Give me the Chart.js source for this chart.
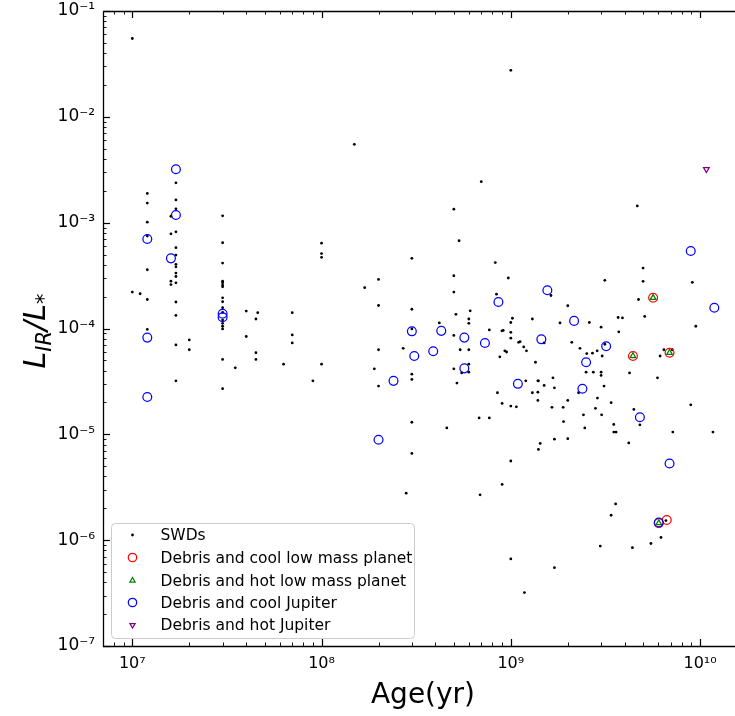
<!DOCTYPE html>
<html><head><meta charset="utf-8">
<script src="https://cdn.jsdelivr.net/npm/chart.js@4.4.0/dist/chart.umd.min.js"></script>
<style>html,body{margin:0;padding:0;background:#fff;overflow:hidden}canvas{display:block}</style>
</head><body>
<canvas id="c" width="735" height="716"></canvas>
<script>
// ---- data ----
const seriesNames = ['SWDs','Debris and cool low mass planet','Debris and hot low mass planet','Debris and cool Jupiter','Debris and hot Jupiter'];

const swdAge = [
 1.0e7,1.7e7,1.2e7,1.2e7,1.7e7,1.7e7,1.6e7,3.0e7,1.2e7,1.6e7,1.7e7,1.2e7,3.0e7,1.7e7,1.7e7,3.0e7,1.7e7,1.7e7,1.2e7,1.7e7,
 1.7e7,3.0e7,3.0e7,3.0e7,3.0e7,1.6e7,1.6e7,1.7e7,1.0e7,1.1e7,1.2e7,3.0e7,3.0e7,3.0e7,1.7e7,3.0e7,3.0e7,3.0e7,3.0e7,3.0e7,
 1.7e7,1.2e7,4.0e7,4.6e7,4.5e7,7.0e7,4.0e7,7.0e7,7.0e7,1.7e7,2.0e7,2.0e7,4.5e7,4.5e7,3.0e7,3.5e7,6.3e7,1.7e7,9.0e7,3.0e7,
 1.0e8,1.0e8,1.0e8,1.0e8,1.0e9,1.49e8,6.98e8,5.0e8,4.66e9,5.33e8,3.0e8,8.28e8,2.0e8,9.7e8,5.0e8,1.69e8,5.0e8,8.4e8,2.0e8,3.0e8,
 6.1e8,5.13e8,6.0e8,6.0e8,4.19e8,1.02e9,1.0e9,3.0e8,7.7e8,8.98e8,9.12e8,1.0e9,1.0e9,5.0e8,1.1e9,2.0e8,2.7e8,5.4e8,6.0e8,9.3e8,
 9.5e8,8.75e8,1.9e8,5.0e8,5.5e8,6.0e8,6.0e8,3.0e8,3.0e8,2.0e8,5.19e8,8.5e8,9.0e8,1.0e9,1.07e9,6.8e8,7.7e8,3.0e8,4.59e8,5.0e9,
 3.14e9,5.0e9,9.1e9,4.73e9,1.63e9,2.0e9,5.1e9,3.69e9,3.89e9,1.3e9,1.82e9,2.6e9,3.0e9,3.72e9,9.5e9,1.5e9,1.12e9,1.17e9,1.21e9,2.1e9,
 2.32e9,3.14e9,2.52e9,2.7e9,2.86e9,3.04e9,6.44e9,7.13e9,6.15e9,1.35e9,2.5e9,2.73e9,3.0e9,3.0e9,4.24e9,5.96e9,1.2e9,1.39e9,1.4e9,1.67e9,
 1.5e9,1.7e9,1.3e9,1.39e9,2.28e9,3.11e9,1.39e9,2.0e9,2.87e9,3.39e9,1.65e9,1.89e9,2.8e9,4.47e9,8.93e9,2.42e9,3.02e9,1.9e9,4.81e9,3.5e9,
 2.46e9,3.5e9,3.6e9,7.18e9,1.17e10,2.0e9,1.7e9,4.2e9,1.43e9,1.4e9,1.0e9,3.58e9,3.39e9,6.6e9,6.22e9,5.5e9,4.39e9,2.97e9,1.0e9,1.7e9,
 1.18e9,3.0e8,9.0e8,2.8e8,6.88e8
];
const swdLum = [
 5.5e-2,2.38e-3,1.89e-3,1.53e-3,1.64e-3,1.35e-3,1.15e-3,1.16e-3,1.01e-3,7.85e-4,8.2e-4,7.47e-4,6.46e-4,5.8e-4,4.94e-4,4.15e-4,4.04e-4,3.83e-4,3.59e-4,3.34e-4,
 3.1e-4,2.8e-4,2.7e-4,2.57e-4,2.48e-4,2.8e-4,2.6e-4,2.7e-4,2.21e-4,2.13e-4,1.88e-4,1.95e-4,1.79e-4,1.57e-4,1.78e-4,1.42e-4,1.2e-4,1.12e-4,1.05e-4,9.9e-5,
 1.33e-4,9.8e-5,1.46e-4,1.41e-4,1.23e-4,1.41e-4,8.4e-5,8.7e-5,7.3e-5,7.0e-5,7.8e-5,6.3e-5,5.9e-5,5.1e-5,5.1e-5,4.25e-5,4.6e-5,3.2e-5,3.2e-5,2.7e-5,
 6.4e-4,5.1e-4,4.7e-4,4.6e-5,2.75e-2,5.5e-3,2.44e-3,1.34e-3,1.44e-3,6.75e-4,4.6e-4,4.2e-4,2.91e-4,3.0e-4,3.15e-4,2.43e-4,2.21e-4,2.11e-4,1.65e-4,1.52e-4,
 1.47e-4,1.36e-4,1.23e-4,1.12e-4,1.13e-4,1.25e-4,1.14e-4,9.9e-5,9.7e-5,9.5e-5,9.6e-5,9.2e-5,8.1e-5,8.6e-5,7.4e-5,6.3e-5,6.5e-5,6.3e-5,6.3e-5,6.15e-5,
 6.0e-5,5.4e-5,4.16e-5,4.16e-5,3.8e-5,3.87e-5,4.6e-5,3.7e-5,3.3e-5,2.86e-5,3.05e-5,2.47e-5,1.96e-5,1.85e-5,1.82e-5,1.43e-5,1.43e-5,1.3e-5,1.15e-5,3.72e-4,
 2.85e-4,2.79e-4,2.73e-4,1.88e-4,2.05e-4,1.64e-4,1.3e-4,1.27e-4,1.26e-4,1.23e-4,1.13e-4,1.14e-4,1.03e-4,9.3e-5,1.05e-4,7.3e-5,7.5e-5,6.7e-5,6.15e-5,7.4e-5,
 6.5e-5,7.1e-5,5.8e-5,5.85e-5,6.15e-5,5.5e-5,6.3e-5,6.3e-5,5.5e-5,4.8e-5,3.87e-5,3.87e-5,3.87e-5,3.6e-5,3.8e-5,3.42e-5,3.2e-5,3.2e-5,3.2e-5,3.42e-5,
 2.9e-5,2.75e-5,2.47e-5,2.5e-5,2.47e-5,2.86e-5,2.09e-5,2.09e-5,2.2e-5,1.99e-5,1.8e-5,1.8e-5,1.76e-5,1.72e-5,1.9e-5,1.53e-5,1.53e-5,1.32e-5,1.23e-5,1.24e-5,
 1.15e-5,1.05e-5,1.05e-5,1.05e-5,1.05e-5,9.1e-6,9.0e-6,8.3e-6,8.2e-6,7.2e-6,5.6e-6,2.2e-6,1.72e-6,1.53e-6,1.06e-6,9.3e-7,8.5e-7,8.8e-7,6.65e-7,5.5e-7,
 3.2e-7,6.6e-6,3.36e-6,2.78e-6,2.68e-6
];

const coolLowAge = [5.65e9, 4.42e9, 6.9e9, 6.05e9, 6.67e9];
const coolLowLum = [1.95e-4, 5.5e-5, 5.9e-5, 1.45e-6, 1.55e-6];

const hotLowAge = [5.65e9, 4.42e9, 6.9e9, 6.05e9];
const hotLowLum = [1.95e-4, 5.5e-5, 5.9e-5, 1.45e-6];

const coolJupAge = [1.7e7,1.7e7,1.2e7,1.6e7,3.0e7,3.0e7,1.2e7,1.2e7,8.6e8,3.0e8,4.29e8,5.68e8,7.3e8,3.09e8,3.89e8,5.68e8,2.4e8,1.09e9,2.0e8,8.93e9,
 1.56e9,1.19e10,2.16e9,1.45e9,3.19e9,2.5e9,2.39e9,4.81e9,6.9e9,6.05e9];
const coolJupLum = [3.2e-3,1.18e-3,7.0e-4,4.6e-4,1.38e-4,1.28e-4,8.2e-5,2.25e-5,1.78e-4,9.4e-5,9.5e-5,8.2e-5,7.3e-5,5.5e-5,6.1e-5,4.2e-5,3.2e-5,3.0e-5,8.9e-6,5.4e-4,
 2.3e-4,1.57e-4,1.18e-4,7.9e-5,6.8e-5,4.8e-5,2.7e-5,1.45e-5,5.3e-6,1.47e-6];

const hotJupAge = [1.08e10];
const hotJupLum = [3.2e-3];

const xTickValues = [1e7, 1e8, 1e9, 1e10];
const xTickLabels = ['10\u2077', '10\u2078', '10\u2079', '10\u00b9\u2070'];
const yTickValues = [1e-1, 1e-2, 1e-3, 1e-4, 1e-5, 1e-6, 1e-7];
const yTickLabels = ['10\u207b\u00b9','10\u207b\u00b2','10\u207b\u00b3','10\u207b\u2074','10\u207b\u2075','10\u207b\u2076','10\u207b\u2077'];
const xAxisTitle = 'Age(yr)';

// ---- chart ----
const FONT = "'DejaVu Sans', sans-serif";
const pts = (a, l) => a.map((v, i) => ({x: v, y: l[i]}));

const decorPlugin = {
  id: 'decor',
  afterDraw(chart) {
    const ctx = chart.ctx;
    const {left, right, top, bottom} = chart.chartArea;
    const xs = chart.scales.x, ys = chart.scales.y;
    ctx.save();
    ctx.strokeStyle = '#000';
    for (let d = 6; d <= 10; d++) {
      for (let m = 1; m <= 9; m++) {
        const v = m * Math.pow(10, d);
        if (v < xs.min || v > xs.max) continue;
        const px = Math.round(xs.getPixelForValue(v)) + 0.5;
        const len = m === 1 ? 7 : 3.5;
        ctx.lineWidth = m === 1 ? 1.2 : 0.9;
        ctx.beginPath();
        ctx.moveTo(px, bottom); ctx.lineTo(px, bottom - len);
        ctx.moveTo(px, top); ctx.lineTo(px, top + len);
        ctx.stroke();
      }
    }
    for (let d = -8; d <= -1; d++) {
      for (let m = 1; m <= 9; m++) {
        const v = m * Math.pow(10, d);
        if (v < ys.min * 0.999 || v > ys.max * 1.001) continue;
        const py = Math.round(ys.getPixelForValue(v)) + 0.5;
        const len = m === 1 ? 7 : 3.5;
        ctx.lineWidth = m === 1 ? 1.2 : 0.9;
        ctx.beginPath();
        ctx.moveTo(left, py); ctx.lineTo(left + len, py);
        ctx.stroke();
      }
    }
    // spines (right spine lies just outside the picture)
    ctx.lineWidth = 1.3;
    ctx.beginPath();
    ctx.moveTo(left + 0.5, top + 0.5); ctx.lineTo(left + 0.5, bottom + 0.5);
    ctx.lineTo(right + 2, bottom + 0.5);
    ctx.moveTo(left + 0.5, top + 0.5); ctx.lineTo(right + 2, top + 0.5);
    ctx.stroke();

    // x axis title
    ctx.fillStyle = '#000';
    ctx.font = '28px ' + FONT;
    ctx.textAlign = 'center';
    ctx.textBaseline = 'alphabetic';
    ctx.fillText(xAxisTitle, 423, 703);

    // y axis title: L_IR / L_*
    ctx.save();
    ctx.translate(45, 331);
    ctx.rotate(-Math.PI / 2);
    const segs = [
      {t: 'L', f: 'italic 30px ' + FONT, dy: 0},
      {t: 'IR', f: 'italic 21px ' + FONT, dy: 6},
      {t: '/', f: 'italic 30px ' + FONT, dy: 0},
      {t: 'L', f: 'italic 30px ' + FONT, dy: 0},
      {t: '*', f: '21px ' + FONT, dy: 6}
    ];
    let tw = 0;
    segs.forEach(s => { ctx.font = s.f; s.w = ctx.measureText(s.t).width; tw += s.w; });
    let cx = -tw / 2;
    ctx.textAlign = 'left';
    segs.forEach(s => { ctx.font = s.f; ctx.fillText(s.t, cx, s.dy); cx += s.w; });
    ctx.restore();

    // legend
    const lx = 111.5, ly = 523.5, lw = 303, lh = 115, r = 4;
    ctx.beginPath();
    ctx.moveTo(lx + r, ly); ctx.lineTo(lx + lw - r, ly); ctx.arcTo(lx + lw, ly, lx + lw, ly + r, r);
    ctx.lineTo(lx + lw, ly + lh - r); ctx.arcTo(lx + lw, ly + lh, lx + lw - r, ly + lh, r);
    ctx.lineTo(lx + r, ly + lh); ctx.arcTo(lx, ly + lh, lx, ly + lh - r, r);
    ctx.lineTo(lx, ly + r); ctx.arcTo(lx, ly, lx + r, ly, r);
    ctx.closePath();
    ctx.fillStyle = 'rgba(255,255,255,0.8)';
    ctx.fill();
    ctx.strokeStyle = '#cccccc';
    ctx.lineWidth = 1;
    ctx.stroke();
    const rows = [535, 557.5, 580.5, 602.5, 625];
    chart.data.datasets.forEach((ds, i) => {
      const y = rows[i];
      const opts = {
        pointStyle: ds.pointStyle, radius: ds.legendRadius, rotation: ds.rotation || 0,
        borderWidth: ds.borderWidth
      };
      ctx.strokeStyle = ds.borderColor;
      ctx.fillStyle = ds.backgroundColor;
      ctx.lineWidth = ds.borderWidth;
      Chart.helpers.drawPoint(ctx, opts, 132.5, y);
      ctx.fillStyle = '#000';
      ctx.font = '15.5px ' + FONT;
      ctx.textAlign = 'left';
      ctx.textBaseline = 'middle';
      ctx.fillText(ds.label, 160.5, y + 1);
    });
    ctx.restore();
  }
};

new Chart(document.getElementById('c'), {
  type: 'scatter',
  data: {
    datasets: [
      {label: seriesNames[0], data: pts(swdAge, swdLum), pointStyle: 'circle', pointRadius: 1.4, legendRadius: 1.4,
       backgroundColor: '#000', borderColor: '#000', borderWidth: 0, order: 5},
      {label: seriesNames[1], data: pts(coolLowAge, coolLowLum), pointStyle: 'circle', pointRadius: 4.4, legendRadius: 4.2,
       backgroundColor: 'rgba(0,0,0,0)', borderColor: '#ff0000', borderWidth: 1.25, order: 4},
      {label: seriesNames[2], data: pts(hotLowAge, hotLowLum), pointStyle: 'triangle', pointRadius: 3.2, legendRadius: 3,
       backgroundColor: 'rgba(0,0,0,0)', borderColor: '#008000', borderWidth: 1.25, order: 3},
      {label: seriesNames[3], data: pts(coolJupAge, coolJupLum), pointStyle: 'circle', pointRadius: 4.4, legendRadius: 4.2,
       backgroundColor: 'rgba(0,0,0,0)', borderColor: '#0000ff', borderWidth: 1.25, order: 2},
      {label: seriesNames[4], data: pts(hotJupAge, hotJupLum), pointStyle: 'triangle', rotation: 180, pointRadius: 3.3, legendRadius: 3,
       backgroundColor: 'rgba(0,0,0,0)', borderColor: '#800080', borderWidth: 1.25, order: 1}
    ]
  },
  options: {
    responsive: false,
    animation: false,
    devicePixelRatio: 1,
    layout: {autoPadding: false, padding: {top: 11, right: 0, left: 0, bottom: 0}},
    plugins: {legend: {display: false}, tooltip: {enabled: false}},
    elements: {point: {hoverRadius: 0}},
    scales: {
      x: {
        type: 'logarithmic', position: 'bottom', min: 7.0e6, max: 1.53e10,
        grid: {display: false, drawTicks: false}, border: {display: false},
        ticks: {font: {family: FONT, size: 16}, color: '#000', padding: 8, maxRotation: 0, autoSkip: false,
                callback: (v, i) => xTickLabels[i]},
        afterBuildTicks: s => { s.ticks = xTickValues.map(v => ({value: v})); },
        afterFit: s => { s.height = 70; s.paddingLeft = 0; s.paddingRight = 0; }
      },
      y: {
        type: 'logarithmic', position: 'left', min: 1e-7, max: 1e-1,
        grid: {display: false, drawTicks: false}, border: {display: false},
        ticks: {font: {family: FONT, size: 17}, color: '#000', padding: 8, autoSkip: false,
                callback: (v, i) => yTickLabels[i]},
        afterBuildTicks: s => { s.ticks = yTickValues.map(v => ({value: v})); },
        afterFit: s => { s.width = 103; s.paddingTop = 0; s.paddingBottom = 0; }
      }
    }
  },
  plugins: [decorPlugin]
});
</script>
</body></html>
